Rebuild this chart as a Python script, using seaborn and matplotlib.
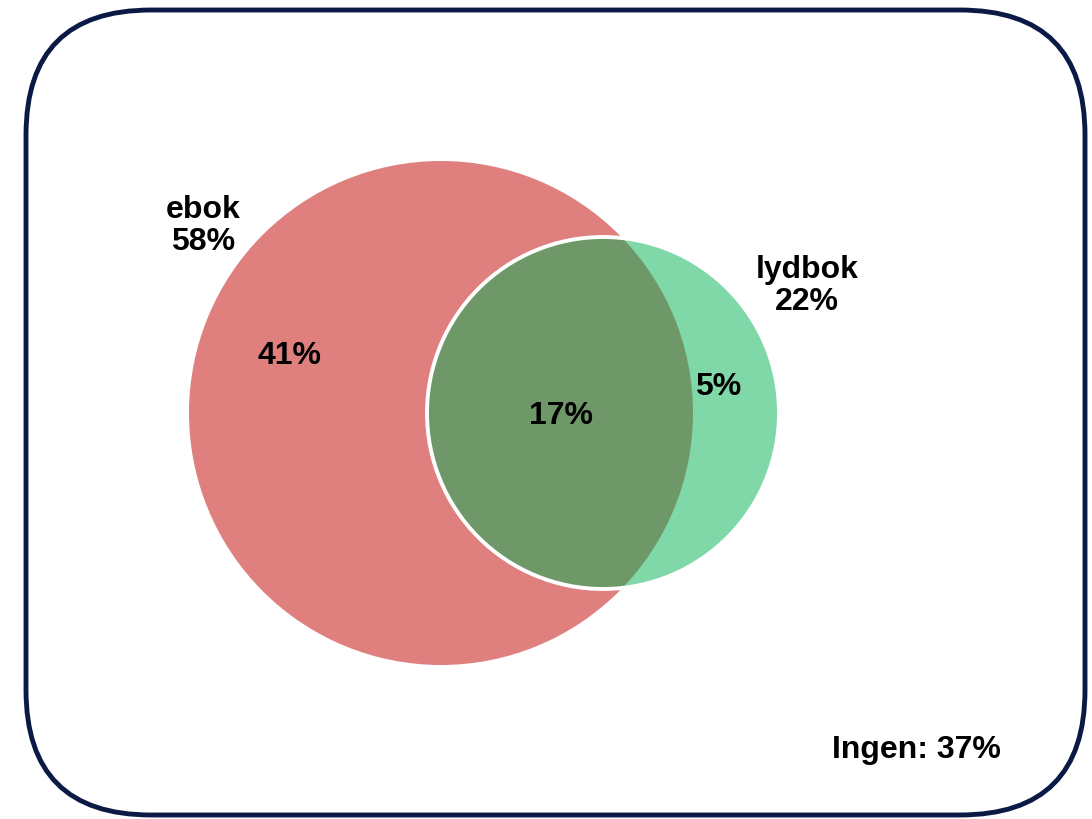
import numpy as np
import matplotlib
matplotlib.use('Agg')
import matplotlib.pyplot as plt
import matplotlib.patches as mpatches
import seaborn as sns

# data
set_names = ['ebok', 'lydbok']
set_totals = [58, 22]
region_values = [41, 17, 5]   # only ebok, both, only lydbok
none_value = 37

# colours
red = '#df7f7e'
green = '#80d7a8'
overlap = '#6f9869'
navy = '#0b1a45'

sns.set_theme(style='white')
plt.rcParams['font.family'] = ['Liberation Sans', 'DejaVu Sans']

fig = plt.figure(figsize=(10.92, 8.19), dpi=100)
ax = fig.add_axes([0, 0, 1, 1])
ax.set_xlim(0, 1092)
ax.set_ylim(819, 0)
ax.set_aspect('equal')
ax.axis('off')

# frame
frame = mpatches.FancyBboxPatch((26, 10), 1059, 805,
                                boxstyle='round,pad=0,rounding_size=125',
                                facecolor='white', edgecolor=navy, lw=3.5)
ax.add_patch(frame)

# circles (layout)
c_red = (441, 413); r_red = 252
c_green = (603, 413); r_green = 176

red_circle = mpatches.Circle(c_red, r_red, facecolor=red, edgecolor='none')
ax.add_patch(red_circle)
ax.add_patch(mpatches.Circle(c_green, r_green, facecolor=green, edgecolor='none'))
inter = mpatches.Circle(c_green, r_green, facecolor=overlap, edgecolor='none')
ax.add_patch(inter)
inter.set_clip_path(red_circle)
ax.add_patch(mpatches.Circle(c_green, r_green, facecolor='none',
                             edgecolor='white', lw=2.8))

fs = 23
kw = dict(ha='center', va='center', fontsize=fs, fontweight='bold', color='black')
ax.text(203, 226, f'{set_names[0]}\n{set_totals[0]}%', linespacing=1.05, **kw)
ax.text(807, 286, f'{set_names[1]}\n{set_totals[1]}%', linespacing=1.05, **kw)
ax.text(289, 356, f'{region_values[0]}%', **kw)
ax.text(561, 416, f'{region_values[1]}%', **kw)
ax.text(718, 387, f'{region_values[2]}%', **kw)
ax.text(916, 750, f'Ingen: {none_value}%', **kw)

fig.savefig('out.png', dpi=100)
